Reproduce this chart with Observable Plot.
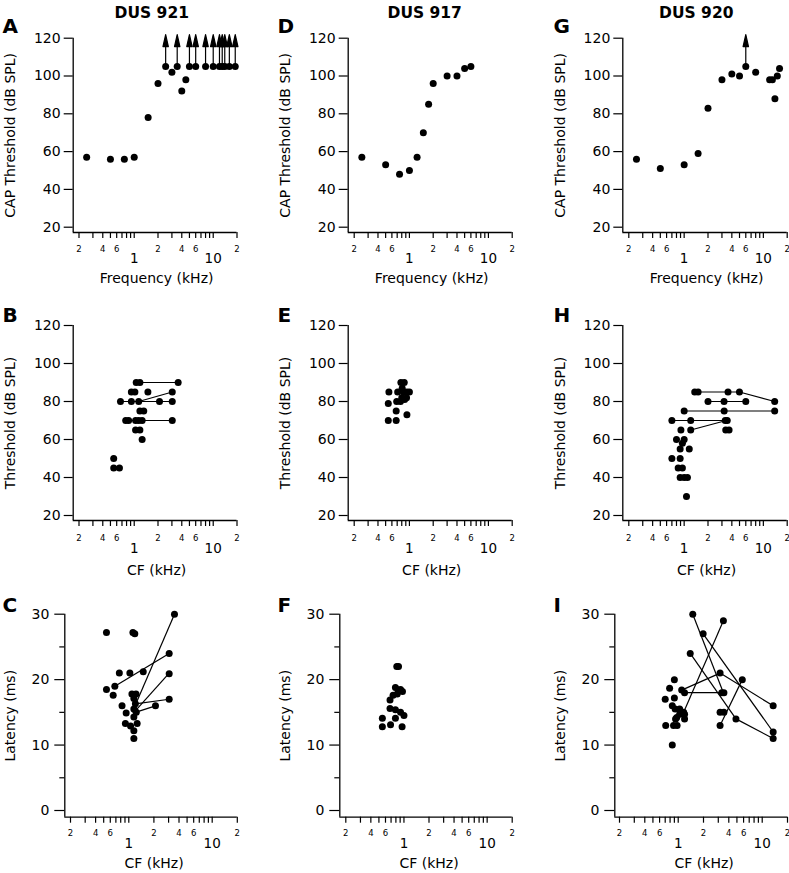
<!DOCTYPE html>
<html><head><meta charset="utf-8">
<script src="https://cdn.jsdelivr.net/npm/d3@7"></script>
<script src="https://cdn.jsdelivr.net/npm/@observablehq/plot@0.6"></script>
<style>
html,body{margin:0;padding:0;background:#fff;}
#fig{position:relative;width:789px;height:873px;overflow:hidden;background:#fff;}
#fig svg{position:absolute;left:0;top:0;}
</style></head><body><div id="fig"></div>
<script>
// ---------- text ----------
const titles = ["DUS 921", "DUS 917", "DUS 920"];
const panelLetters = [["A", "B", "C"], ["D", "E", "F"], ["G", "H", "I"]];
const yLabels = ["CAP Threshold (dB SPL)", "Threshold (dB SPL)", "Latency (ms)"];
const xLabels = ["Frequency (kHz)", "CF (kHz)", "CF (kHz)"];

// ---------- ticks ----------
const xTickValues = [0.2, 0.3, 0.4, 0.5, 0.6, 0.7, 0.8, 0.9, 1, 2, 3, 4, 5, 6, 7, 8, 9, 10, 20];
const xSmallLabelValues = [0.2, 0.4, 0.6, 2, 4, 6, 20];
const xSmallLabelText = ["2", "4", "6", "2", "4", "6", "2"];
const xBigLabelValues = [1, 10];
const xBigLabelText = ["1", "10"];
const thrTicks = [20, 40, 60, 80, 100, 120];
const latTicks = [0, 10, 20, 30];
const latMinorTicks = [5, 15, 25];

// ---------- A: DUS 921 CAP ----------
const freqA = [0.25, 0.5, 0.75, 1, 1.5, 2, 3, 4, 4.5];
const capA = [57, 56, 56, 57, 78, 96, 102, 92, 98];
const freqArrowA = [2.5, 3.5, 5, 6, 8, 10, 12, 13, 14, 16, 19];
const capArrowA = [105, 105, 105, 105, 105, 105, 105, 105, 105, 105, 105];

// ---------- D: DUS 917 CAP ----------
const freqD = [0.25, 0.5, 0.75, 1, 1.25, 1.5, 1.75, 2, 3, 4, 5, 6];
const capD = [57, 53, 48, 50, 57, 70, 85, 96, 100, 100, 104, 105];

// ---------- G: DUS 920 CAP ----------
const freqG = [0.25, 0.5, 1, 1.5, 2, 3, 4, 5, 8, 12, 13, 14, 15, 16];
const capG = [56, 51, 53, 59, 83, 98, 101, 100, 102, 98, 98, 88, 100, 104];
const freqArrowG = [6];
const capArrowG = [105];

// ---------- B: DUS 921 unit thresholds ----------
const cfB = [0.55, 0.55, 0.65, 0.67, 0.92, 1.14, 2.09, 3.03, 1.06, 1.18, 3.6, 0.92, 1.02, 1.49, 3.03,
  1.18, 1.32, 0.78, 0.85, 1.04, 1.14, 1.26, 3.03, 1.04, 1.18, 1.26];
const thrB = [50, 45, 45, 80, 80, 80, 80, 80, 90, 90, 90, 85, 85, 85, 85,
  75, 75, 70, 70, 70, 70, 70, 70, 65, 65, 60];
const segB = [[0.67, 80, 3.03, 80], [1.14, 80, 3.03, 85], [1.06, 90, 3.6, 90], [0.78, 70, 3.03, 70]];

// ---------- E: DUS 917 unit thresholds ----------
const cfE = [0.55, 0.54, 0.54, 0.68, 0.68, 0.69, 0.77, 0.71, 0.78, 0.86, 0.81, 0.84, 0.93, 1.0, 0.92, 0.87, 0.93, 0.8];
const thrE = [85, 79, 70, 70, 75, 80, 80, 85, 90, 90, 87, 85, 85, 85, 82, 81, 73, 82];

// ---------- H: DUS 920 unit thresholds ----------
const cfH = [1.36, 1.5, 3.58, 4.99, 2.0, 3.19, 6.0, 13.9, 1.0, 3.2, 13.9, 0.7, 1.21, 3.3, 3.5, 0.91, 1.21, 3.35, 3.69,
  0.8, 1.0, 0.95, 0.89, 1.16, 0.7, 0.89, 0.84, 0.95, 0.89, 1.0, 1.1, 1.07];
const thrH = [85, 85, 85, 85, 80, 80, 80, 80, 75, 75, 75, 70, 70, 70, 70, 65, 65, 65, 65,
  60, 60, 58, 55, 55, 50, 50, 45, 45, 40, 40, 40, 30];
const segH = [[1.36, 85, 4.99, 85], [4.99, 85, 13.9, 80], [2.0, 80, 6.0, 80], [1.0, 75, 13.9, 75],
  [0.7, 70, 3.5, 70], [1.21, 65, 3.4, 70]];

// ---------- C: DUS 921 latency ----------
const cfC = [0.54, 1.12, 1.18, 3.53, 3.05, 3.05, 3.05, 2.09, 1.49, 1.03, 0.77, 0.54, 0.68, 0.65, 0.83, 0.93, 0.91,
  1.05, 1.15, 1.15, 1.26, 1.09, 1.22, 1.15, 1.2, 1.15, 1.23, 1.15];
const latC = [27.2, 27.2, 27.0, 30, 24, 20.9, 17, 16, 21.2, 21, 21, 18.5, 19, 17.6, 16, 14.9, 13.3,
  12.9, 12.2, 11, 13.3, 17.8, 17.8, 17.1, 16.3, 15.5, 15.0, 14.3];
const segC = [[0.68, 19, 3.05, 24], [1.1, 15, 3.53, 30], [1.25, 15.5, 3.05, 21], [1.2, 16.3, 3.05, 17], [1.2, 15, 2.09, 16]];

// ---------- F: DUS 917 latency ----------
const cfF = [0.55, 0.55, 0.69, 0.68, 0.68, 0.74, 0.79, 0.79, 0.82, 0.86, 0.79, 0.85, 0.91, 0.96, 0.91, 1.0, 0.95, 0.83];
const latF = [14.1, 12.8, 13.1, 15.6, 16.9, 17.6, 14.1, 15.4, 22, 22, 18.8, 18.4, 18.5, 18.2, 15, 14.5, 12.8, 17.8];

// ---------- I: DUS 920 latency ----------
const cfI = [1.49, 3.45, 1.98, 1.39, 3.15, 5.79, 13.5, 13.5, 13.5, 4.87, 3.3, 3.5, 3.15, 3.5, 3.15, 1.19, 1.1, 0.9, 0.79,
  0.9, 0.7, 0.71, 0.85, 0.85, 0.92, 1.04, 1.16, 0.96, 1.04, 1.19, 0.88, 0.97, 0.93, 1.19];
const latI = [30, 29, 27, 24, 21, 20, 16, 12, 11, 14, 18, 18, 15, 15, 13, 18, 18.4, 20, 18.7,
  17.2, 17, 13, 10, 16, 15.5, 15.5, 15, 14.2, 14.7, 14.7, 13, 13, 14, 14];
const segI = [[1.49, 30, 3.45, 18], [1.98, 27, 13.5, 12], [3.45, 29, 1.16, 15], [1.39, 24, 4.87, 14],
  [4.87, 14, 13.5, 11], [1.19, 18, 3.45, 18], [1.1, 18.4, 3.15, 21], [3.15, 21, 13.5, 16], [5.79, 20, 3.15, 13]];

// ---------- layout (pixels) ----------
const W = 789, H = 873;
const colGeom12 = [{ax: 72.7, x02: 78.5, x20: 236.5}, {ax: 347.7, x02: 353.7, x20: 511.7}, {ax: 622.3, x02: 628.3, x20: 786.7}];
const colGeom3 = [{ax: 64.3, x02: 70, x20: 236.8}, {ax: 339.3, x02: 345.3, x20: 511.7}, {ax: 614.3, x02: 619, x20: 787}];
const rowGeom = [
  {top: 37.7, base: 232, yMax: 120, yLow: 20, yLowPx: 226.7, ticks: thrTicks, tick: 9, pad: 3.5, letterDy: -5.7, xlabDy: 50.5, yDx: -62.7, tlDy: 0},
  {top: 325, base: 520, yMax: 120, yLow: 20, yLowPx: 515, ticks: thrTicks, tick: 9, pad: 3.5, letterDy: -3.3, xlabDy: 54, yDx: -62.7, tlDy: 1.5},
  {top: 613.7, base: 816.7, yMax: 30, yLow: 0, yLowPx: 810, ticks: latTicks, tick: 10, pad: 5.5, letterDy: -2, xlabDy: 50.6, yDx: -54.3, tlDy: 0}
];
const titleDx = [78.6, 76.5, 73.5];
const letterX = [2, 277, 553];

const arrowShape = {
  draw(ctx, l) {
    ctx.moveTo(0, 0); ctx.lineTo(0, -l + 10);
    ctx.moveTo(-2.7, -l + 12); ctx.lineTo(0, -l); ctx.lineTo(2.7, -l + 12); ctx.closePath();
  }
};

function dots(xs, ys) { return Plot.dot(xs, {x: xs, y: ys, r: 3.5, fill: "#000", stroke: "none"}); }
function links(seg) {
  return Plot.link(seg, {x1: d => d[0], y1: d => d[1], x2: d => d[2], y2: d => d[3], stroke: "#000", strokeWidth: 1.2});
}
function arrows(xs, ys) {
  return Plot.vector(xs, {x: xs, y: ys, length: 32, rotate: 0, anchor: "start", shape: arrowShape,
    fill: "#000", stroke: "#000", strokeWidth: 1.2});
}

function panel(col, row, dataMarks) {
  const g = row < 2 ? colGeom12[col] : colGeom3[col];
  const r = rowGeom[row];
  const decade = (g.x20 - g.x02) / 2;
  const xMin = 0.2 * Math.pow(10, -(g.x02 - g.ax) / decade);
  const ppu = (r.yLowPx - r.top) / (r.yMax - r.yLow);
  const yMin = r.yLow - (r.base - r.yLowPx) / ppu;
  const marks = [
    Plot.ruleX([xMin], {stroke: "#000", strokeWidth: 1.3}),
    Plot.ruleY([yMin], {stroke: "#000", strokeWidth: 1.3}),
    Plot.axisX(xTickValues, {anchor: "bottom", tickSize: 6, tickFormat: () => "", label: null, strokeWidth: 1.2}),
    Plot.text(xSmallLabelValues, {x: d => d, text: (d, i) => xSmallLabelText[i], frameAnchor: "bottom",
      textAnchor: "middle", lineAnchor: "top", dy: 13 + r.tlDy, fontSize: 8.5}),
    Plot.text(xBigLabelValues, {x: d => d, text: (d, i) => xBigLabelText[i], frameAnchor: "bottom",
      textAnchor: "middle", lineAnchor: "top", dy: 21 + r.tlDy, fontSize: 13.5}),
    Plot.axisY(r.ticks, {anchor: "left", tickSize: r.tick, tickPadding: r.pad, fontSize: 14, label: null, strokeWidth: 1.2})
  ];
  if (row === 2) marks.push(Plot.axisY(latMinorTicks, {anchor: "left", tickSize: 5, tickFormat: () => "", label: null, strokeWidth: 1.2}));
  marks.push(
    Plot.text([yLabels[row]], {text: d => d, frameAnchor: "left", dx: r.yDx, rotate: -90, textAnchor: "middle",
      lineAnchor: "middle", fontSize: 14}),
    Plot.text([xLabels[row]], {text: d => d, frameAnchor: "bottom", dx: row < 2 ? 1.5 : 3, dy: r.xlabDy,
      textAnchor: "middle", lineAnchor: "bottom", fontSize: 14}),
    Plot.text([panelLetters[col][row]], {text: d => d, frameAnchor: "top-left", dx: letterX[col] - g.ax,
      dy: r.letterDy, textAnchor: "start", lineAnchor: "bottom", fontSize: 20, fontWeight: "bold"})
  );
  if (row === 0) marks.push(Plot.text([titles[col]], {text: d => d, frameAnchor: "top-left", dx: titleDx[col], dy: -20,
    textAnchor: "middle", lineAnchor: "bottom", fontSize: 15.5, fontWeight: "bold"}));
  marks.push(...dataMarks);
  return Plot.plot({
    width: W, height: H,
    marginLeft: g.ax, marginRight: W - g.x20, marginTop: r.top, marginBottom: H - r.base,
    x: {type: "log", domain: [xMin, 20], axis: null},
    y: {domain: [yMin, r.yMax], axis: null},
    style: {fontFamily: "DejaVu Sans", background: "transparent", color: "#000", overflow: "visible"},
    marks
  });
}

const fig = document.getElementById("fig");
const panels = [
  panel(0, 0, [arrows(freqArrowA, capArrowA), dots(freqA, capA), dots(freqArrowA, capArrowA)]),
  panel(0, 1, [links(segB), dots(cfB, thrB)]),
  panel(0, 2, [links(segC), dots(cfC, latC)]),
  panel(1, 0, [dots(freqD, capD)]),
  panel(1, 1, [dots(cfE, thrE)]),
  panel(1, 2, [dots(cfF, latF)]),
  panel(2, 0, [arrows(freqArrowG, capArrowG), dots(freqG, capG), dots(freqArrowG, capArrowG)]),
  panel(2, 1, [links(segH), dots(cfH, thrH)]),
  panel(2, 2, [links(segI), dots(cfI, latI)])
];
panels.forEach(p => fig.appendChild(p));
</script></body></html>
